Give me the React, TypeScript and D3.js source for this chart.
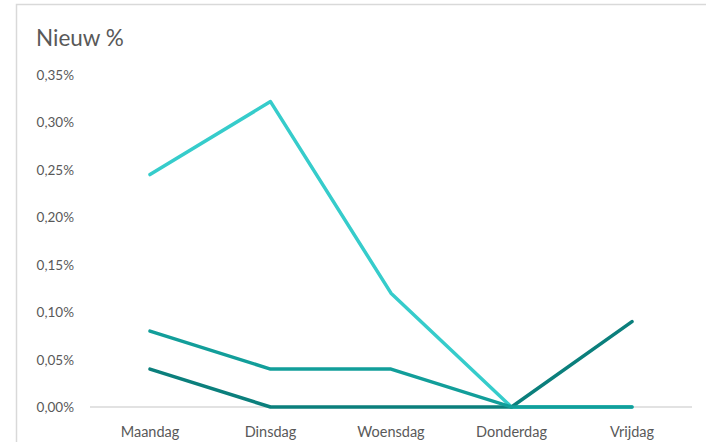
import React, { useEffect, useRef } from 'react';
import * as d3 from 'd3';

const days = ['Maandag', 'Dinsdag', 'Woensdag', 'Donderdag', 'Vrijdag'];
const yTicks = [0, 0.0005, 0.001, 0.0015, 0.002, 0.0025, 0.003, 0.0035];
const seriesLight = [0.00245, 0.00322, 0.0012, 0, 0];
const seriesMid = [0.0008, 0.0004, 0.0004, 0, 0];
const seriesDark = [0.0004, 0, 0, 0, 0.0009];

const App = () => {
  const ref = useRef<SVGSVGElement>(null);

  useEffect(() => {
    const svg = d3.select(ref.current);
    svg.selectAll('*').remove();

    const font = 'Lato, "Open Sans", sans-serif';

    // outer frame
    svg.append('rect')
      .attr('x', 16.5).attr('y', 4.5)
      .attr('width', 700).attr('height', 460)
      .attr('fill', 'white')
      .attr('stroke', '#d9d9d9').attr('stroke-width', 1.5);

    svg.append('text')
      .attr('x', 36).attr('y', 46)
      .attr('font-family', font).attr('font-size', 22.5)
      .attr('fill', '#595959')
      .text('Nieuw %');

    const x = d3.scalePoint<string>().domain(days).range([150, 632]).padding(0);
    const y = d3.scaleLinear().domain([0, 0.0035]).range([407, 75]);

    // baseline
    svg.append('line')
      .attr('x1', 90).attr('x2', 692)
      .attr('y1', y(0)).attr('y2', y(0))
      .attr('stroke', '#d9d9d9').attr('stroke-width', 1.5);

    const fmt = (v: number) => (v * 100).toFixed(2).replace('.', ',') + '%';

    svg.selectAll('.ytick')
      .data(yTicks)
      .enter()
      .append('text')
      .attr('x', 74).attr('y', d => y(d) + 5)
      .attr('text-anchor', 'end')
      .attr('font-family', font).attr('font-size', 13.5)
      .attr('fill', '#595959')
      .text(d => fmt(d));

    svg.selectAll('.xtick')
      .data(days)
      .enter()
      .append('text')
      .attr('x', d => x(d) as number).attr('y', 437)
      .attr('text-anchor', 'middle')
      .attr('font-family', font).attr('font-size', 14.5)
      .attr('fill', '#595959')
      .text(d => d);

    const line = d3.line<number>()
      .x((_, i) => x(days[i]) as number)
      .y(d => y(d));

    // light at the bottom, mid on top (mid covers the flat 0 line to Vrijdag)
    const series = [
      { values: seriesLight, color: '#36cccb' },
      { values: seriesDark, color: '#0b7f7c' },
      { values: seriesMid, color: '#129e9a' },
    ];

    series.forEach(s => {
      svg.append('path')
        .datum(s.values)
        .attr('d', line)
        .attr('fill', 'none')
        .attr('stroke', s.color)
        .attr('stroke-width', 3.5)
        .attr('stroke-linecap', 'round')
        .attr('stroke-linejoin', 'round');
    });
  }, []);

  return (
    <svg
      ref={ref}
      width={706}
      height={442}
      style={{ position: 'fixed', top: 0, left: 0, display: 'block', background: 'white' }}
    />
  );
};

export default App;
